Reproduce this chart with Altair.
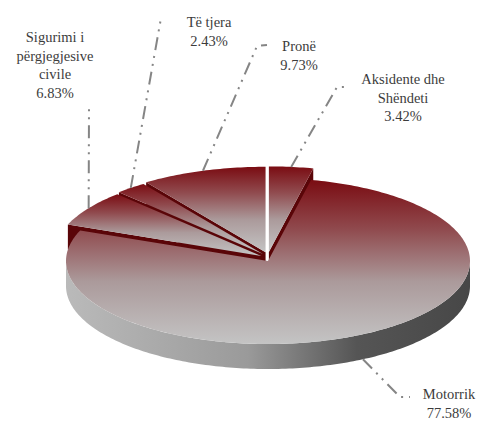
import math
import altair as alt
import pandas as pd

# ---------------- data ----------------
categories = ["Aksidente dhe\nShëndeti", "Motorrik", "Sigurimi i\npërgjegjesive\ncivile", "Të tjera", "Pronë"]
shares = [3.42, 77.58, 6.83, 2.43, 9.73]
exploded = [True, False, True, True, True]

# ---------------- layout (page pixels) ----------------
W, H = 469, 412            # plot area
CX, CY = 268, 261          # pie centre on the page
RX, RY = 202, 83           # ellipse radii of the tilted pie
DEPTH = 25                 # thickness of the pie
R_OUT, EX, EY = 1.03, 0.04, 0.11   # explode settings
SERIF = "Liberation Serif, Times New Roman, serif"

# first-line centres of the labels and leader waypoints, page pixels
label_xy = {
    "Aksidente dhe\nShëndeti": (403, 80),
    "Motorrik": (449, 395),
    "Sigurimi i\npërgjegjesive\ncivile": (55, 38),
    "Të tjera": (209, 23),
    "Pronë": (299, 47),
}
leader_pts = {
    "Aksidente dhe\nShëndeti": [(337, 87), (348, 87)],
    "Motorrik": [(400, 397), (410, 397)],
    "Sigurimi i\npërgjegjesive\ncivile": [(89, 107)],
    "Të tjera": [(161, 18)],
    "Pronë": [(257, 46), (267, 45)],
}


def to_data(px, py):
    return ((px - CX) / RX, (CY - py) / RY)


xs = alt.Scale(domain=[-(CX - 8) / RX, (W - (CX - 8)) / RX], nice=False, zero=False)
ys = alt.Scale(domain=[((CY - 8) - H) / RY, (CY - 8) / RY], nice=False, zero=False)
d = DEPTH / RY


def arc(a0, a1, ox, oy, r, dy=0.0):
    n = max(2, int(math.ceil(abs(a1 - a0))) + 1)
    pts = []
    for k in range(n):
        t = math.radians(a0 + (a1 - a0) * k / (n - 1))
        pts.append((ox + r * math.sin(t), oy + r * math.cos(t) - dy))
    return pts


top_rows, side_rows, cut_rows, lead_rows, text_rows = [], [], [], [], []
total = sum(shares)
acc = 0.0
for cat, v, ex in zip(categories, shares, exploded):
    a0 = acc / total * 360
    acc += v
    a1 = acc / total * 360
    mid = math.radians((a0 + a1) / 2)
    if ex:
        ox, oy, r = EX * math.sin(mid), EY * math.cos(mid), R_OUT
    else:
        ox, oy, r = 0.0, 0.0, 1.0
    # top face
    poly = [(ox, oy)] + arc(a0, a1, ox, oy, r)
    for i, (x, y) in enumerate(poly):
        top_rows.append({"poly": cat, "i": i, "x": x, "y": y, "main": not ex})
    # front wall
    s0, s1 = max(a0, 90), min(a1, 270)
    if s1 > s0:
        poly = arc(s0, s1, ox, oy, r) + arc(s1, s0, ox, oy, r, d)
        for i, (x, y) in enumerate(poly):
            side_rows.append({"poly": cat, "i": i, "x": x, "y": y})
    # visible radial cut faces
    for name, ang, vis in (("s", a0, math.sin(math.radians(a0)) < -1e-6),
                           ("e", a1, math.sin(math.radians(a1)) > 1e-6)):
        if vis:
            t = math.radians(ang)
            ex_, ey_ = ox + r * math.sin(t), oy + r * math.cos(t)
            poly = [(ox, oy), (ex_, ey_), (ex_, ey_ - d), (ox, oy - d)]
            for i, (x, y) in enumerate(poly):
                cut_rows.append({"poly": cat + name, "i": i, "x": x, "y": y})
    # leader line
    if ex:
        ax, ay = ox + r * math.sin(mid), oy + r * math.cos(mid)
    else:
        ax, ay = math.sin(mid), math.cos(mid) - d
    pts = [(ax, ay)] + [to_data(*p) for p in leader_pts[cat]]
    for i, (x, y) in enumerate(pts):
        lead_rows.append({"poly": cat, "i": i, "x": x, "y": y})
    lx, ly = to_data(*label_xy[cat])
    text_rows.append({"label": f"{cat}\n{v:.2f}%", "x": lx, "y": ly})

top_df = pd.DataFrame(top_rows)
side_df = pd.DataFrame(side_rows)
cut_df = pd.DataFrame(cut_rows)
lead_df = pd.DataFrame(lead_rows)
text_df = pd.DataFrame(text_rows)

top_grad = alt.LinearGradient(
    gradient="linear", x1=0, y1=0, x2=0, y2=1,
    stops=[alt.GradientStop(offset=0, color="#7a0c12"),
           alt.GradientStop(offset=0.3, color="#904a4e"),
           alt.GradientStop(offset=0.62, color="#ab9a9b"),
           alt.GradientStop(offset=1, color="#c4c4c4")])
side_grad = alt.LinearGradient(
    gradient="linear", x1=0, y1=0, x2=1, y2=0,
    stops=[alt.GradientStop(offset=0, color="#bababa"),
           alt.GradientStop(offset=0.45, color="#9a9a9a"),
           alt.GradientStop(offset=0.72, color="#555555"),
           alt.GradientStop(offset=1, color="#474747")])

enc = dict(
    x=alt.X("x:Q", scale=xs, axis=None),
    y=alt.Y("y:Q", scale=ys, axis=None),
    detail="poly:N",
    order="i:Q",
)

side = alt.Chart(side_df).mark_line(fill=side_grad, strokeOpacity=0, strokeWidth=0).encode(**enc)
cuts = alt.Chart(cut_df).mark_line(fill="#5a0508", strokeOpacity=0, strokeWidth=0).encode(**enc)
top_main = alt.Chart(top_df).transform_filter("datum.main").mark_line(
    fill=top_grad, strokeOpacity=0, strokeWidth=0).encode(**enc)
top_small = alt.Chart(top_df).transform_filter("!datum.main").mark_line(
    fill=top_grad, strokeOpacity=0, strokeWidth=0).encode(**enc)
leaders = alt.Chart(lead_df).mark_line(
    color="#858585", strokeWidth=2, strokeDash=[13, 6, 2, 6, 2, 6]).encode(**enc)
labels = alt.Chart(text_df).mark_text(
    align="center", baseline="middle", lineBreak="\n", font=SERIF,
    fontSize=14.5, lineHeight=18.5, color="#3c3c3c").encode(
    x=alt.X("x:Q", scale=xs, axis=None),
    y=alt.Y("y:Q", scale=ys, axis=None),
    text="label:N")

chart = alt.layer(side, cuts, top_main, top_small, leaders, labels).properties(
    width=W, height=H, padding=0, autosize="none", background="white"
).configure_view(strokeWidth=0)

chart.save("out.html", embed_options={"renderer": "svg", "actions": False})
